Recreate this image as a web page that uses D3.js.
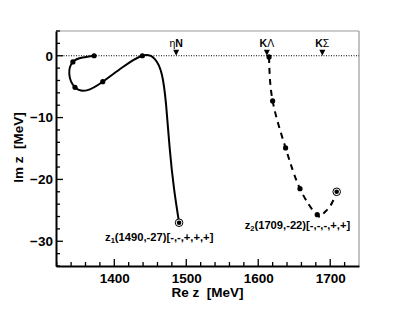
<!DOCTYPE html>
<html>
<head>
<meta charset="utf-8">
<script src="https://cdn.jsdelivr.net/npm/d3@7"></script>
<style>
  body { margin: 0; background: #fff; }
  svg text { font-family: "Liberation Sans", Arial, sans-serif; font-weight: bold; white-space: pre; }
</style>
</head>
<body>
<div id="chart"></div>
<script>
// trajectory of pole z1 (solid) [Re, Im]
let path1 = [[1372, 0], [1356, -0.3], [1342.5, -1.0], [1337.5, -3.0], [1345.4, -5.1], [1361.7, -5.6],
  [1384, -4.2], [1411, -1.9], [1439, 0], [1456, -0.5], [1466, -3.0], [1472, -8.0],
  [1477, -15], [1483, -21.5], [1490, -27]];
let dots1 = [[1372, 0], [1342.5, -1.0], [1345.4, -5.1], [1384, -4.2], [1439, 0]];
let pole1 = [1490, -27];

// trajectory of pole z2 (dashed)
let path2 = [[1615, -0.2], [1620, -7.3], [1638, -14.9], [1658, -21.5], [1681, -25.7],
  [1690, -25.6], [1700, -24.3], [1709, -22]];
let dots2 = [[1615, -0.2], [1620, -7.3], [1638, -14.9], [1658, -21.5], [1682, -25.7]];
let pole2 = [1709, -22];

let thresholds = [
  {name: "ηN", a: "η", b: "N", x: 1486},
  {name: "KΛ", a: "K", b: "Λ", x: 1612},
  {name: "KΣ", a: "K", b: "Σ", x: 1689}
];

let xTicks = [1400, 1500, 1600, 1700];
let yTicks = [0, -10, -20, -30];

let trueWidth = 399, trueHeight = 310;
let margin = {top: 31, right: 40, bottom: 44, left: 56};
let width = trueWidth - margin.left - margin.right;
let height = trueHeight - margin.top - margin.bottom;

let svg = d3.select("#chart").append("svg")
  .attr("width", trueWidth)
  .attr("height", trueHeight);

let g = svg.append("g")
  .attr("transform", "translate(" + margin.left + "," + margin.top + ")");

let x = d3.scaleLinear().domain([1319, 1740]).range([0, width]);
let y = d3.scaleLinear().domain([-34, 4]).range([height, 0]);

// frame: top/right in grey
g.append("line").attr("x1", 0).attr("x2", width).attr("y1", 0).attr("y2", 0)
  .attr("stroke", "#999").attr("stroke-width", 1.2);
g.append("line").attr("x1", width).attr("x2", width).attr("y1", 0).attr("y2", height)
  .attr("stroke", "#999").attr("stroke-width", 1.2);

// minor ticks
let xMinor = d3.range(1320, 1740, 20);
let yMinor = d3.range(-34, 5, 2);
g.selectAll(".xminor").data(xMinor).enter().append("line")
  .attr("x1", d => x(d)).attr("x2", d => x(d))
  .attr("y1", height).attr("y2", d => height - (xTicks.includes(d) ? 7 : 4))
  .attr("stroke", "#000").attr("stroke-width", 1.3);
g.selectAll(".yminor").data(yMinor).enter().append("line")
  .attr("x1", 0).attr("x2", d => (yTicks.includes(d) ? 7 : 4))
  .attr("y1", d => y(d)).attr("y2", d => y(d))
  .attr("stroke", "#000").attr("stroke-width", 1.3);

// axes
let xAxis = d3.axisBottom(x).tickValues(xTicks).tickSize(0).tickPadding(6).tickFormat(d3.format("d"));
let yAxis = d3.axisLeft(y).tickValues(yTicks).tickSize(0).tickPadding(3).tickFormat(d => d < 0 ? "\u2212" + (-d) : d);

let gx = g.append("g").attr("transform", "translate(0," + height + ")").call(xAxis);
let gy = g.append("g").call(yAxis);
[gx, gy].forEach(a => {
  a.select(".domain").attr("stroke", "#000").attr("stroke-width", 2);
  a.selectAll("text").attr("font-size", "13.5px").attr("fill", "#000")
    .attr("font-family", "Liberation Sans, Arial, sans-serif").attr("font-weight", "bold");
});
gx.selectAll("text").attr("dy", "0.8em");

// axis titles
svg.append("text")
  .attr("x", margin.left + width / 2).attr("y", 297)
  .attr("text-anchor", "middle").attr("font-size", "13.5px")
  .text("Re z  [MeV]");
svg.append("text")
  .attr("transform", "translate(22.5," + (margin.top + height / 2 - 1) + ") rotate(-90)")
  .attr("text-anchor", "middle").attr("font-size", "13.5px")
  .text("Im z  [MeV]");

// zero line
g.append("line")
  .attr("x1", 0).attr("x2", width).attr("y1", y(0)).attr("y2", y(0))
  .attr("stroke", "#000").attr("stroke-width", 1).attr("stroke-dasharray", "1,1.5");

// thresholds
let th = g.selectAll(".thr").data(thresholds).enter().append("g")
  .attr("transform", d => "translate(" + x(d.x) + "," + y(0) + ")");
th.append("path").attr("d", "M-3,-6L3,-6L0,0Z").attr("fill", "#000");
let tt = th.append("text").attr("y", -9).attr("text-anchor", "middle").attr("font-size", "10.5px");
tt.append("tspan").attr("font-weight", d => d.a == "η" ? "normal" : "bold").text(d => d.a);
tt.append("tspan").attr("font-weight", d => d.b == "N" ? "bold" : "normal").text(d => d.b);

// curves
let line = d3.line()
  .x(d => x(d[0]))
  .y(d => y(d[1]))
  .curve(d3.curveNatural);

g.append("path").datum(path1)
  .attr("d", line).attr("fill", "none").attr("stroke", "#000").attr("stroke-width", 2);
g.append("path").datum(path2)
  .attr("d", line).attr("fill", "none").attr("stroke", "#000").attr("stroke-width", 2)
  .attr("stroke-dasharray", "6,5");

g.selectAll(".dot").data(dots1.concat(dots2)).enter().append("circle")
  .attr("cx", d => x(d[0])).attr("cy", d => y(d[1])).attr("r", 2.6).attr("fill", "#000");

// pole markers
[pole1, pole2].forEach(p => {
  g.append("circle").attr("cx", x(p[0])).attr("cy", y(p[1])).attr("r", 3.8)
    .attr("fill", "#fff").attr("stroke", "#000").attr("stroke-width", 1);
  g.append("circle").attr("cx", x(p[0])).attr("cy", y(p[1])).attr("r", 2.3).attr("fill", "#000");
});

// pole labels
let labels = [
  {p: pole1, sub: "1", rest: "(" + pole1[0] + "," + pole1[1] + ")[-,-,+,+,+]", dx: -74, dy: 18},
  {p: pole2, sub: "2", rest: "(" + pole2[0] + "," + pole2[1] + ")[-,-,-,+,+]", dx: -92, dy: 37}
];
labels.forEach(l => {
  let t = g.append("text")
    .attr("x", x(l.p[0]) + l.dx).attr("y", y(l.p[1]) + l.dy)
    .attr("font-size", "11.2px");
  t.append("tspan").text("z");
  t.append("tspan").attr("font-size", "7.5px").attr("dy", 2.5).text(l.sub);
  t.append("tspan").attr("dy", -2.5).text(l.rest);
});
</script>
</body>
</html>
